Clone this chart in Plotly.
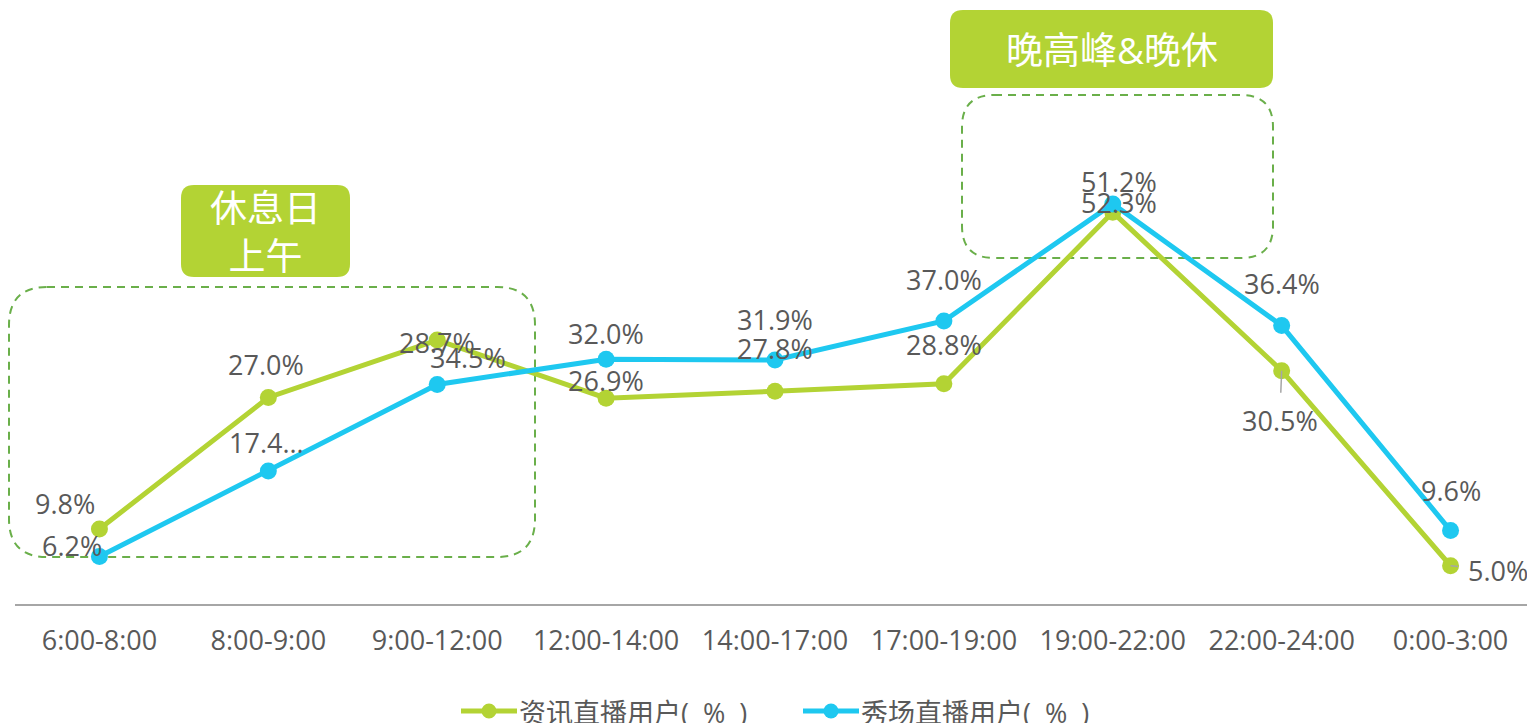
import plotly.graph_objects as go

# data
periods = ["6:00-8:00", "8:00-9:00", "9:00-12:00", "12:00-14:00", "14:00-17:00",
           "17:00-19:00", "19:00-22:00", "22:00-24:00", "0:00-3:00"]
news_users = [9.8, 27.0, 34.5, 26.9, 27.8, 28.8, 51.2, 30.5, 5.0]
show_users = [6.2, 17.4, 28.7, 32.0, 31.9, 37.0, 52.3, 36.4, 9.6]
news_name = "资讯直播用户(\u00a0\u00a0%\u00a0\u00a0)"
show_name = "秀场直播用户(\u00a0\u00a0%\u00a0\u00a0)"

GREEN = "#B3D334"
BLUE = "#1EC8F0"
DASH = "#6AAF4A"
LABEL = "#595959"
FONT = "Open Sans, Noto Sans CJK SC, sans-serif"

# label offsets (pixels) relative to each point, and whether a leader line is drawn
news_off = [(-34, -26), (-2, -33), (31, 17), (0, -18), (0, -43), (0, -39), (6, -31), (-2, 50), (47, 5)]
news_leader = [False] * 7 + [True, True]
show_off = [(-27, -11), (-2, -28), (0, -42), (0, -26), (0, -40), (0, -41), (6, -1), (0, -42), (0, -40)]
show_leader = [False] * 9

# layout geometry (pixels); the page body adds an 8px margin, so the figure is
# shifted by OFF and sized to end at the window edge
OFF = 8
W, H = 1535 - OFF, 723 - OFF
ML, MR, MT = 15 - OFF, 0, 0
PW = W - ML - MR
PH = 604 - OFF
MB = H - PH
PX_PER_UNIT = 7.65


def px(x):
    # window pixel -> paper x
    return (x - OFF - ML) / PW


def py(y):
    # window pixel -> paper y
    return (PH - (y - OFF)) / PH


def rounded(x0, y0, x1, y1, r):
    # rounded rectangle path in paper coords from pixel box
    pts = [
        f"M {px(x0 + r)},{py(y0)}",
        f"L {px(x1 - r)},{py(y0)}",
        f"Q {px(x1)},{py(y0)} {px(x1)},{py(y0 + r)}",
        f"L {px(x1)},{py(y1 - r)}",
        f"Q {px(x1)},{py(y1)} {px(x1 - r)},{py(y1)}",
        f"L {px(x0 + r)},{py(y1)}",
        f"Q {px(x0)},{py(y1)} {px(x0)},{py(y1 - r)}",
        f"L {px(x0)},{py(y0 + r)}",
        f"Q {px(x0)},{py(y0)} {px(x0 + r)},{py(y0)}",
        "Z",
    ]
    return " ".join(pts)


fig = go.Figure()
fig.add_trace(go.Scatter(x=periods, y=news_users, name=news_name, mode="lines+markers",
                         line=dict(color=GREEN, width=5), marker=dict(color=GREEN, size=17)))
fig.add_trace(go.Scatter(x=periods, y=show_users, name=show_name, mode="lines+markers",
                         line=dict(color=BLUE, width=5), marker=dict(color=BLUE, size=17)))

annotations = []
for vals, offs, leaders, name in [(news_users, news_off, news_leader, "news"),
                                  (show_users, show_off, show_leader, "show")]:
    for i, v in enumerate(vals):
        txt = f"{v:.1f}%"
        if name == "show" and i == 1:
            txt = f"{v:.1f}..."
        annotations.append(dict(
            x=periods[i], y=v, xref="x", yref="y", text=txt,
            showarrow=True, ax=offs[i][0], ay=offs[i][1], arrowhead=0,
            arrowwidth=1.5, standoff=0, startstandoff=8 if leaders[i] else 0,
            arrowcolor="#A6A6A6" if leaders[i] else "rgba(0,0,0,0)",
            font=dict(size=27, color=LABEL, family=FONT)))

# callout boxes
annotations.append(dict(x=px(265.5), y=py(231), xref="paper", yref="paper",
                        xanchor="center", yanchor="middle",
                        text="休息日<br>上午", showarrow=False,
                        font=dict(size=37, color="white", family=FONT)))
annotations.append(dict(x=px(1111.5), y=py(49), xref="paper", yref="paper",
                        xanchor="center", yanchor="middle",
                        text="晚高峰&晚休", showarrow=False,
                        font=dict(size=37, color="white", family=FONT)))

shapes = [
    dict(type="path", xref="paper", yref="paper", path=rounded(9, 287, 535, 557, 38),
         line=dict(color=DASH, width=2, dash="8px,6px"), layer="below"),
    dict(type="path", xref="paper", yref="paper", path=rounded(962, 95, 1273, 258, 32),
         line=dict(color=DASH, width=2, dash="8px,6px"), layer="below"),
    dict(type="path", xref="paper", yref="paper", path=rounded(181, 185, 350, 277, 13),
         fillcolor=GREEN, line=dict(width=0), layer="below"),
    dict(type="path", xref="paper", yref="paper", path=rounded(950, 10, 1273, 88, 13),
         fillcolor=GREEN, line=dict(width=0), layer="below"),
]

# legend drawn by hand: long line key with a dot, text right after it
legend_items = [(news_name, GREEN, 461), (show_name, BLUE, 803)]
LEG_Y = 711
for text, color, x0 in legend_items:
    shapes.append(dict(type="line", xref="paper", yref="paper",
                       x0=px(x0), x1=px(x0 + 56), y0=py(LEG_Y), y1=py(LEG_Y),
                       line=dict(color=color, width=5)))
    shapes.append(dict(type="circle", xref="paper", yref="paper",
                       x0=px(x0 + 20.5), x1=px(x0 + 35.5), y0=py(LEG_Y - 7.5), y1=py(LEG_Y + 7.5),
                       fillcolor=color, line=dict(width=0)))
    annotations.append(dict(x=px(x0 + 56), y=py(LEG_Y + 1), xref="paper", yref="paper",
                            xanchor="left", yanchor="middle", text=text, showarrow=False,
                            font=dict(size=27, color=LABEL, family=FONT)))

fig.update_layout(
    width=W, height=H,
    margin=dict(l=ML, r=MR, t=MT, b=MB, autoexpand=False),
    paper_bgcolor="white", plot_bgcolor="white",
    font=dict(family=FONT, color=LABEL),
    xaxis=dict(type="category", range=[-0.5, 8.5], showgrid=False, zeroline=False,
               automargin=False,
               showline=True, linecolor="#A6A6A6", linewidth=1.5, ticks="",
               ticklabelstandoff=12, tickfont=dict(size=27, color=LABEL, family=FONT)),
    yaxis=dict(range=[0, PH / PX_PER_UNIT], visible=False, showgrid=False, automargin=False),
    showlegend=False,
    annotations=annotations,
    shapes=shapes,
)

fig.write_html("out.html")
